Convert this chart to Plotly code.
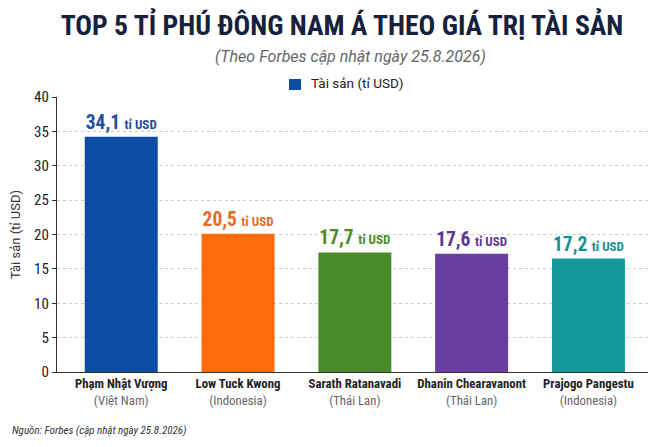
import plotly.graph_objects as go

names = ["Phạm Nhật Vượng", "Low Tuck Kwong", "Sarath Ratanavadi", "Dhanin Chearavanont", "Prajogo Pangestu"]
countries = ["Việt Nam", "Indonesia", "Thái Lan", "Thái Lan", "Indonesia"]
bar_values = [34.2, 20.1, 17.4, 17.2, 16.5]
label_values = ["34,1", "20,5", "17,7", "17,6", "17,2"]
colors = ["#0a4da2", "#ff6a0a", "#4a8c2a", "#6a3ea1", "#15999b"]
label_colors = ["#1f4e9c", "#e8692a", "#4a8a2a", "#5e3596", "#168f92"]
legend_label = "Tài sản (tỉ USD)"

COND = "Roboto Condensed, Roboto, sans-serif"
ROB = "Roboto, sans-serif"

ticktext = [f"<b>{n}</b><br><span style='color:#666666'>({c})</span>" for n, c in zip(names, countries)]
texts = [f"<b>{v} <span style='font-size:13px'>tỉ USD</span></b>" for v in label_values]

fig = go.Figure()
fig.add_trace(go.Bar(
    x=names, y=bar_values, name=legend_label,
    marker=dict(color=colors, line=dict(width=0)),
    text=texts, textposition="outside", cliponaxis=False,
    textfont=dict(family=COND, size=19.5, color=label_colors),
    showlegend=False,
))

# page body has an 8px margin: figure is sized/positioned to compensate
fig.update_layout(
    width=662, height=439,
    margin=dict(l=49, r=22, t=89, b=75),
    paper_bgcolor="white", plot_bgcolor="white",
    font=dict(family=COND, color="#222222"),
    bargap=0.375,
    title=dict(text="<b>TOP 5 TỈ PHÚ ĐÔNG NAM Á THEO GIÁ TRỊ TÀI SẢN</b>",
               x=0.5045, xanchor="center", y=0.961, yanchor="middle",
               font=dict(family=COND, size=27.7, color="#16213e")),
    showlegend=False,
    xaxis=dict(range=[-0.55, 4.51], showline=True, linecolor="#333333", linewidth=1.2,
               tickmode="array", tickvals=names, ticktext=ticktext, tickangle=0,
               automargin=False,
               tickfont=dict(family=COND, size=12.8, color="#222222"), ticks=""),
    yaxis=dict(range=[0, 40], dtick=5, showline=True, linecolor="#333333", linewidth=1.2,
               ticks="outside", ticklen=4, tickcolor="#333333", automargin=False,
               showgrid=True, gridcolor="#cccccc", griddash="dot", gridwidth=1,
               zeroline=False,
               tickfont=dict(family=COND, size=15, color="#222222"),
               title=dict(text="Tài sản (tỉ USD)", standoff=10,
                          font=dict(family=ROB, size=13, color="#333333"))),
    shapes=[
        dict(type="rect", xref="paper", yref="paper", x0=0.3926, x1=0.4129, y0=1.0255, y1=1.0655,
             fillcolor=colors[0], line=dict(width=0)),
    ],
    annotations=[
        dict(text=legend_label, x=0.4264, xanchor="left", xref="paper", yref="paper",
             y=1.051, yanchor="middle", showarrow=False,
             font=dict(family=ROB, size=13.5, color="#222222")),
        dict(text="<i>(Theo Forbes cập nhật ngày 25.8.2026)</i>", x=0.4958, xanchor="center",
             xref="paper", yref="paper", y=1.1455, yanchor="middle", showarrow=False,
             font=dict(family=ROB, size=16, color="#666666")),
        dict(text="<i>Nguồn: Forbes (cập nhật ngày 25.8.2026)</i>", x=-0.0795, xanchor="left",
             xref="paper", yref="paper", y=-0.211, yanchor="middle", showarrow=False,
             font=dict(family=COND, size=11, color="#333333")),
    ],
)

fig.write_html("out.html")
